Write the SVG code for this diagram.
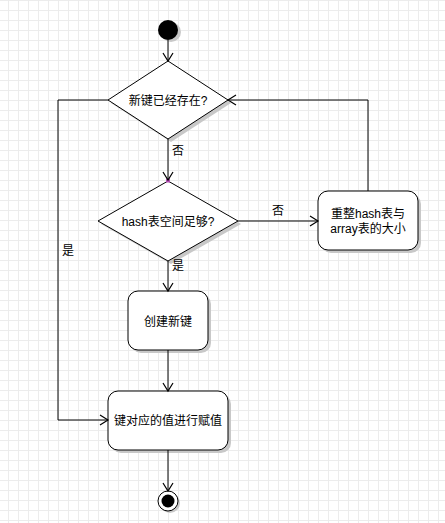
<svg xmlns="http://www.w3.org/2000/svg" width="445" height="523" viewBox="0 0 445 523">
<defs>
<pattern id="grid" patternUnits="userSpaceOnUse" x="8" y="0" width="10" height="10">
<path d="M0.5 0V10M0 0.5H10" stroke="#ececec" stroke-width="1" fill="none"/>
</pattern>
<marker id="arr" markerUnits="userSpaceOnUse" viewBox="-10 -6 12 12" refX="0" refY="0" markerWidth="12" markerHeight="12" orient="auto">
<path d="M-8,-5 L0,0 L-8,5" fill="none" stroke="#000" stroke-width="1.2"/>
</marker>
</defs>
<style>
.shape{fill:#fff;stroke:#000;stroke-width:1}
.shadow{fill:#c8c8c8;stroke:none}
.lbl{font-family:"Liberation Sans","Noto Sans CJK SC",sans-serif;font-size:12px;fill:#000}
.mid{text-anchor:middle}
.conn{fill:none;stroke:#000;stroke-width:1;marker-end:url(#arr)}
</style>
<rect width="445" height="523" fill="#fff"/>
<rect width="445" height="523" fill="url(#grid)"/>

<g id="start">
<circle cx="171" cy="32" r="10" class="shadow"/>
<circle cx="168" cy="30" r="10" fill="#000"/>
</g>

<g id="decision-exists">
<polygon points="171,64 231,103 171,142 111,103" class="shadow"/>
<polygon points="168,61 228,100 168,139 108,100" class="shape"/>
<text x="168" y="104.5" class="lbl mid">新键已经存在?</text>
</g>

<g id="decision-space">
<polygon points="171,184 241,224 171,264 101,224" class="shadow"/>
<polygon points="168,181 238,221 168,261 98,221" class="shape"/>
<text x="168" y="225.5" class="lbl mid">hash表空间足够?</text>
<rect x="166" y="178.5" width="4" height="4" fill="#b44fb4"/>
</g>

<g id="resize">
<rect x="321" y="194" width="100" height="59" rx="10" class="shadow"/>
<rect x="318" y="191" width="100" height="59" rx="10" class="shape"/>
<text x="368" y="217.5" class="lbl mid">重整hash表与</text>
<text x="368" y="232.5" class="lbl mid">array表的大小</text>
</g>

<g id="create">
<rect x="131" y="294" width="80" height="59" rx="10" class="shadow"/>
<rect x="128" y="291" width="80" height="59" rx="10" class="shape"/>
<text x="168" y="325.5" class="lbl mid">创建新键</text>
</g>

<g id="assign">
<rect x="111" y="394" width="120" height="59" rx="10" class="shadow"/>
<rect x="108" y="391" width="120" height="59" rx="10" class="shape"/>
<text x="168" y="425" class="lbl mid">键对应的值进行赋值</text>
</g>

<g id="end">
<circle cx="170" cy="503" r="10" class="shadow"/>
<circle cx="168" cy="501" r="10" fill="#fff" stroke="#000" stroke-width="1"/>
<circle cx="168" cy="501" r="6.5" fill="#000"/>
</g>

<g id="connectors">
<path d="M168,40 V61" class="conn"/>
<path d="M168,139 V180" class="conn"/>
<path d="M108,100 H58 V420 H108" class="conn"/>
<path d="M238,221 H318" class="conn"/>
<path d="M368,191 V100 H228" class="conn"/>
<path d="M168,261 V291" class="conn"/>
<path d="M168,350 V391" class="conn"/>
<path d="M168,450 V491" class="conn"/>
<text x="172" y="155" class="lbl">否</text>
<text x="272" y="214.5" class="lbl">否</text>
<text x="62" y="254.5" class="lbl">是</text>
<text x="172" y="269.5" class="lbl">是</text>
</g>
</svg>
